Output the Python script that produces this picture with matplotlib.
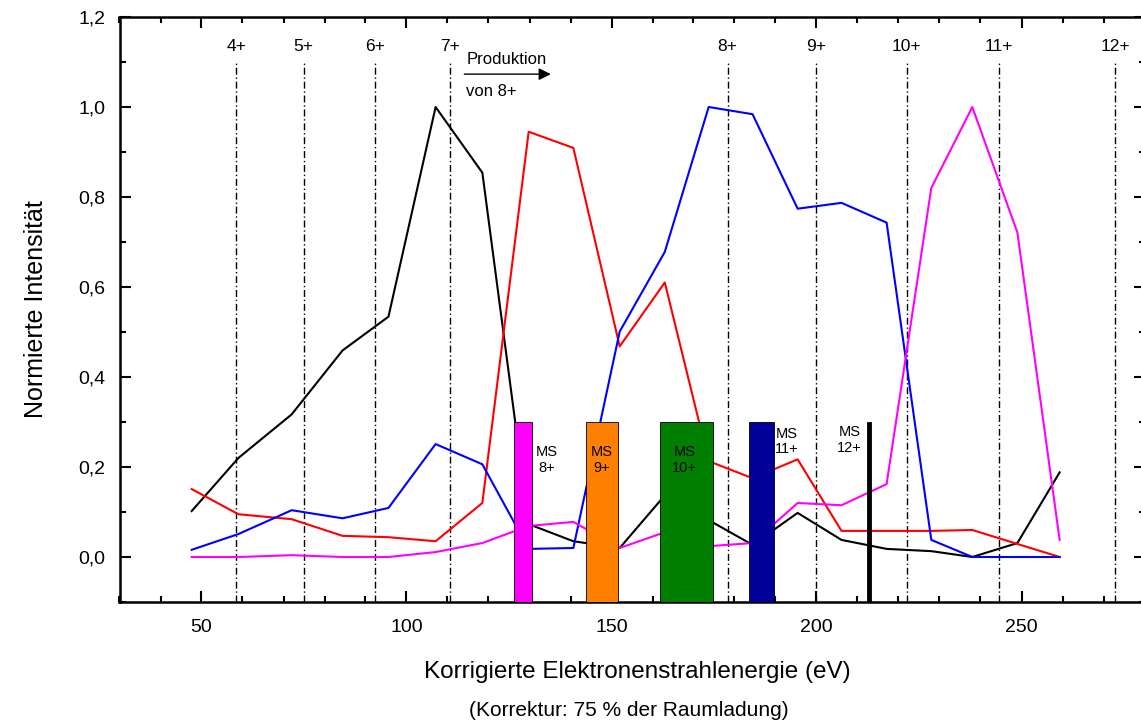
import numpy as np
import matplotlib.pyplot as plt
from matplotlib.ticker import MultipleLocator, FuncFormatter

plt.rcParams['font.family'] = ['Liberation Sans', 'DejaVu Sans']

# Elektronenstrahlenergie der Messpunkte (eV)
energie = [47.6, 59.0, 72.0, 84.4, 95.6, 107.1, 118.5, 129.8, 140.7, 152.0,
           163.0, 173.7, 184.4, 195.4, 206.1, 217.1, 228.0, 238.0, 249.0, 259.3]

# normierte Intensitaeten der vier Ladungszustaende
schwarz = [0.102, 0.220, 0.317, 0.459, 0.534, 1.000, 0.854, 0.073, 0.035, 0.020,
           0.137, 0.082, 0.027, 0.098, 0.038, 0.018, 0.013, 0.000, 0.031, 0.188]
rot = [0.151, 0.095, 0.084, 0.047, 0.044, 0.035, 0.120, 0.945, 0.909, 0.468,
       0.610, 0.213, 0.175, 0.217, 0.058, 0.058, 0.058, 0.060, 0.029, 0.000]
blau = [0.016, 0.051, 0.104, 0.086, 0.109, 0.251, 0.206, 0.018, 0.020, 0.501,
        0.678, 1.000, 0.984, 0.774, 0.787, 0.743, 0.038, 0.000, 0.000, 0.000]
magenta = [0.000, 0.000, 0.004, 0.000, 0.000, 0.011, 0.031, 0.069, 0.078, 0.020,
           0.055, 0.024, 0.031, 0.120, 0.115, 0.162, 0.820, 1.000, 0.721, 0.038]

# Ionisationsschwellen
schwellen = [58.5, 74.9, 92.4, 110.7, 178.3, 200.0, 222.0, 244.6, 272.9]
schwellen_labels = ['4+', '5+', '6+', '7+', '8+', '9+', '10+', '11+', '12+']

# MS-Bereiche: Mitte, Breite, Farbe, Beschriftung
ms_mitte = [128.4, 147.7, 168.3, 186.5, 212.8]
ms_breite = [4.2, 8.0, 12.8, 6.1, 0.9]
ms_farben = ['#ff00ff', '#ff8000', '#007f00', '#000099', 'black']
ms_labels = ['MS\n8+', 'MS\n9+', 'MS\n10+', 'MS\n11+', 'MS\n12+']
ms_text_x = [134.2, 147.5, 167.8, 192.7, 208.1]
ms_text_y = [0.215, 0.215, 0.215, 0.257, 0.26]
ms_oben = 0.3

fig = plt.figure(figsize=(11.41, 7.26), dpi=100)
ax = fig.add_axes([119.5 / 1141, 124 / 726, 1025 / 1141, 585 / 726])

for y, c in zip([schwarz, rot, blau, magenta], ['black', 'red', 'blue', 'magenta']):
    ax.plot(energie, y, color=c, lw=1.5, zorder=2)

for e, lab in zip(schwellen, schwellen_labels):
    ax.plot([e, e], [-0.1, 1.1], color='black', lw=1.0,
            linestyle=(0, (5, 2, 1, 2)), zorder=1)
    ax.text(e, 1.135, lab, ha='center', va='center', fontsize=12.5)

ax.bar(ms_mitte, ms_oben + 0.1, width=ms_breite, bottom=-0.1, color=ms_farben,
       edgecolor='black', linewidth=0.6, zorder=3)
for x, y, lab in zip(ms_text_x, ms_text_y, ms_labels):
    ax.text(x, y, lab, ha='center', va='center', fontsize=10.5, linespacing=1.15,
            zorder=4)

# Pfeil fuer den Beginn der 8+ Produktion
ax.annotate('', xy=(135.2, 1.073), xytext=(114.1, 1.073),
            arrowprops=dict(arrowstyle='-|>', color='black', lw=1.0,
                            mutation_scale=18, shrinkA=0, shrinkB=0))
ax.text(114.6, 1.106, 'Produktion', ha='left', va='center', fontsize=12)
ax.text(114.6, 1.035, 'von 8+', ha='left', va='center', fontsize=12)

ax.set_xlim(30, 280)
ax.set_ylim(-0.1, 1.2)
ax.xaxis.set_major_locator(MultipleLocator(50))
ax.xaxis.set_minor_locator(MultipleLocator(10))
ax.yaxis.set_major_locator(MultipleLocator(0.2))
ax.yaxis.set_minor_locator(MultipleLocator(0.1))
ax.yaxis.set_major_formatter(FuncFormatter(lambda v, p: f'{v:.1f}'.replace('.', ',')))

ax.tick_params(which='both', direction='in', top=True, right=True, width=1.5)
ax.tick_params(which='major', length=8, labelsize=14)
ax.tick_params(which='minor', length=4)
ax.tick_params(axis='x', pad=12)
ax.tick_params(axis='y', pad=10)
for s in ax.spines.values():
    s.set_linewidth(1.8)

ax.set_ylabel('Normierte Intensität', fontsize=18, labelpad=22)
fig.text(637 / 1141, 1 - 672 / 726, 'Korrigierte Elektronenstrahlenergie (eV)',
         ha='center', va='center', fontsize=17.5)
fig.text(629 / 1141, 1 - 711 / 726, '(Korrektur: 75 % der Raumladung)',
         ha='center', va='center', fontsize=15)

fig.savefig('out.png', dpi=100)
